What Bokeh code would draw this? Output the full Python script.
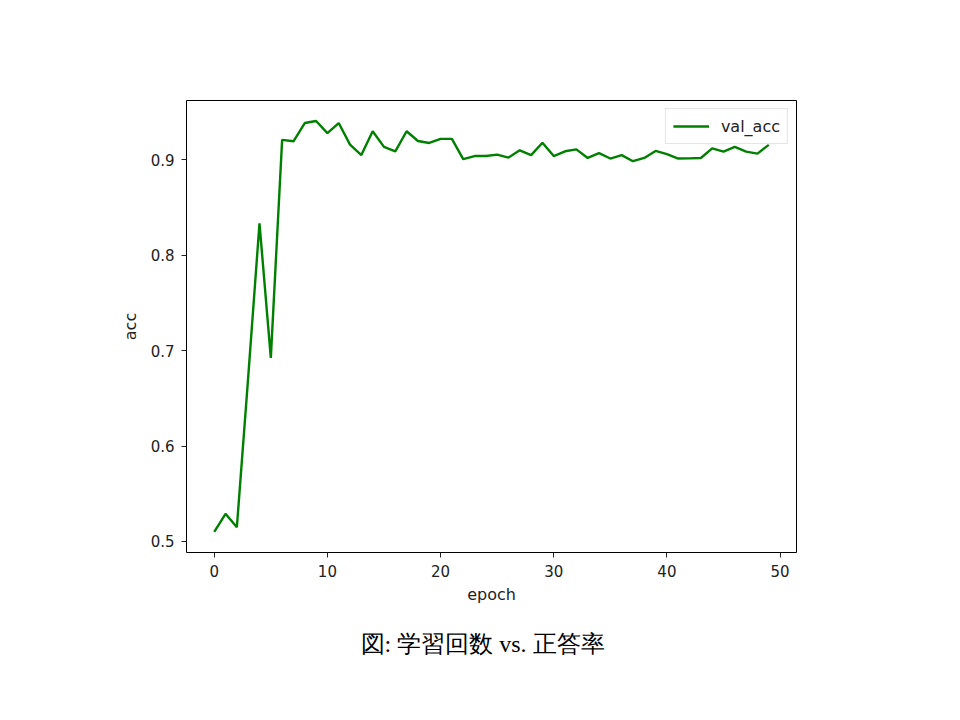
from bokeh.plotting import figure
from bokeh.models import Range1d, Title, Legend, LegendItem, FixedTicker, ColumnDataSource
from bokeh.embed import file_html
from bokeh.resources import INLINE

epoch = list(range(50))
val_acc = [0.510, 0.529, 0.515, 0.672, 0.8335, 0.6925, 0.921, 0.9195, 0.9386, 0.9407,
           0.928, 0.9386, 0.916, 0.905, 0.930, 0.9136, 0.909, 0.930, 0.9198, 0.9177,
           0.922, 0.922, 0.9007, 0.904, 0.904, 0.9055, 0.9024, 0.910, 0.905, 0.918,
           0.904, 0.909, 0.911, 0.902, 0.907, 0.9014, 0.905, 0.8986, 0.902, 0.9094,
           0.906, 0.9014, 0.9016, 0.902, 0.912, 0.9087, 0.9136, 0.9087, 0.9066, 0.9157]
x_ticks = [0, 10, 20, 30, 40, 50]
y_ticks = [0.5, 0.6, 0.7, 0.8, 0.9]
series_name = "val_acc"
caption = "図: 学習回数 vs. 正答率"

src = ColumnDataSource(dict(epoch=epoch, val_acc=val_acc))

xpad = (max(epoch) - min(epoch)) * 0.05
ypad = (max(val_acc) - min(val_acc)) * 0.05

p = figure(width=952, height=700, output_backend="svg", toolbar_location=None,
           x_range=Range1d(min(epoch) - xpad, max(epoch) + xpad),
           y_range=Range1d(min(val_acc) - ypad, max(val_acc) + ypad),
           min_border_left=186, min_border_right=156, min_border_top=100, min_border_bottom=148)

p.grid.visible = False
p.outline_line_color = "black"
p.outline_line_width = 1
p.background_fill_color = "white"
p.border_fill_color = "white"

r = p.line("epoch", "val_acc", source=src, line_color="#008000", line_width=2.4)

font = "DejaVu Sans"
for ax in (p.xaxis[0], p.yaxis[0]):
    ax.axis_line_color = None
    ax.major_tick_in = 0
    ax.major_tick_out = 5
    ax.minor_tick_line_color = None
    ax.major_tick_line_color = "#222222"
    ax.major_label_text_font = font
    ax.major_label_text_font_size = "15px"
    ax.major_label_text_color = "#222222"
    ax.axis_label_text_font = font
    ax.axis_label_text_font_size = "16px"
    ax.axis_label_text_font_style = "normal"
    ax.axis_label_text_color = "#222222"

p.xaxis.ticker = FixedTicker(ticks=x_ticks)
p.yaxis.ticker = FixedTicker(ticks=y_ticks)
p.xaxis.axis_label = "epoch"
p.yaxis.axis_label = "acc"
p.xaxis.major_label_standoff = 7
p.yaxis.major_label_standoff = 7
p.xaxis.axis_label_standoff = 5
p.yaxis.axis_label_standoff = 8

legend = Legend(items=[LegendItem(label=series_name, renderers=[r])], location="top_right",
                label_text_font=font, label_text_font_size="16px", label_text_color="#222222",
                border_line_color="#cccccc", border_line_width=1,
                glyph_width=36, label_standoff=12, padding=7, margin=8, spacing=0,
                background_fill_alpha=0.8)
p.add_layout(legend)

cap = Title(text=caption, align="left", offset=174, standoff=44,
            text_font="Liberation Serif", text_font_size="24px", text_color="black",
            text_font_style="normal")
p.add_layout(cap, "below")

open("out.html", "w").write(file_html(p, INLINE))
